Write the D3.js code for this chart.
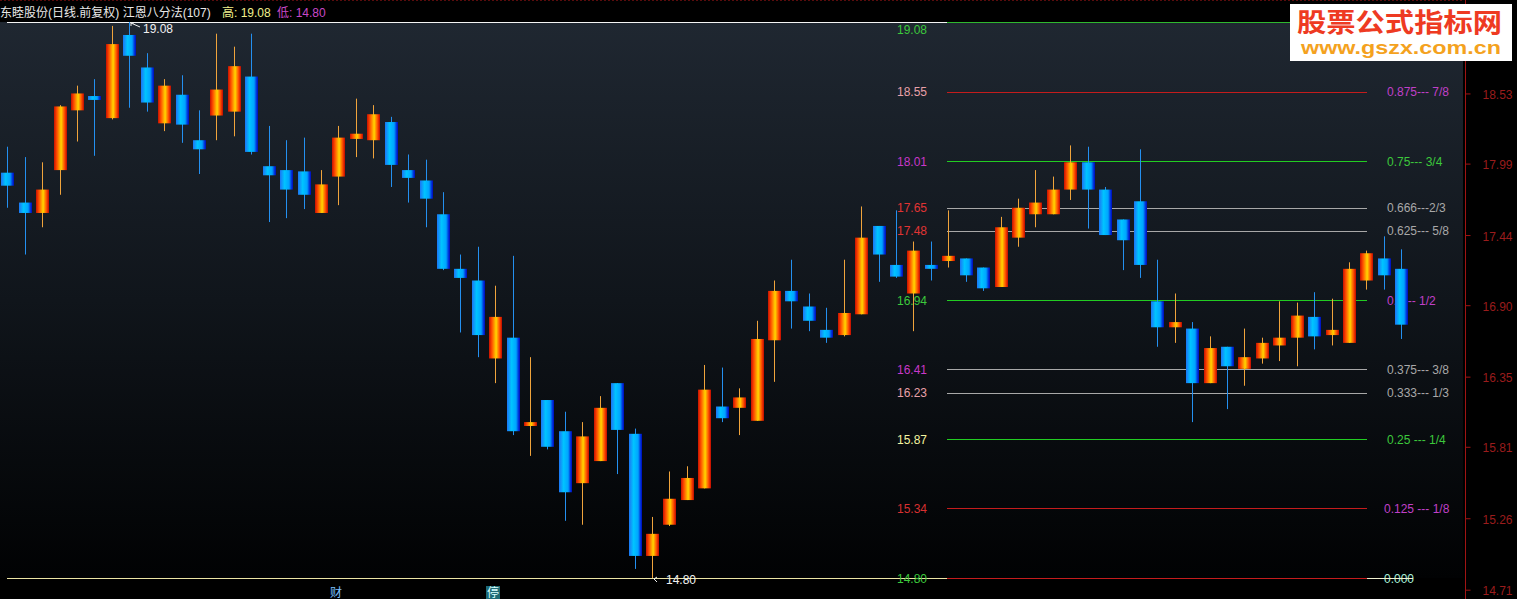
<!DOCTYPE html>
<html><head><meta charset="utf-8">
<script src="https://cdn.jsdelivr.net/npm/d3@7"></script>
<style>html,body{margin:0;padding:0;background:#000;overflow:hidden}</style>
</head><body>
<svg id="c" width="1517" height="599"></svg>
<script>
// ---- data ----
const opens  = [17.92,17.69,17.61,17.94,18.40,18.51,18.34,18.98,18.73,18.30,18.52,18.17,18.36,18.39,18.66,17.97,17.94,17.93,17.61,17.89,18.18,18.17,18.31,17.94,17.86,17.60,17.18,17.09,16.49,16.65,15.97,16.17,15.93,15.53,15.70,16.30,15.91,14.97,15.21,15.40,15.49,16.12,16.11,16.01,16.63,17.01,16.89,16.71,16.67,16.83,17.51,17.21,16.99,17.21,17.24,17.26,17.19,17.04,17.42,17.60,17.60,17.79,18.00,17.79,17.56,17.70,16.93,16.73,16.72,16.30,16.58,16.41,16.49,16.59,16.65,16.81,16.67,16.61,17.09,17.26,17.18];
const highs  = [18.12,18.04,18.00,18.44,18.59,18.64,19.05,19.08,18.84,18.64,18.67,18.40,18.99,18.89,18.99,18.28,18.17,18.19,17.94,18.28,18.49,18.44,18.35,18.06,18.02,17.77,17.29,17.35,17.05,17.28,16.50,16.17,16.08,16.00,16.20,16.30,15.95,15.27,15.62,15.66,16.44,16.42,16.26,16.78,17.09,17.25,16.99,16.88,17.25,17.66,17.51,17.63,17.39,17.39,17.63,17.26,17.19,17.58,17.72,17.94,17.89,18.13,18.12,17.81,17.56,18.10,17.25,16.99,16.77,16.66,16.58,16.72,16.65,16.93,16.92,17.00,16.95,17.23,17.32,17.43,17.33];
const lows   = [17.65,17.29,17.50,17.75,18.16,18.05,18.33,18.42,18.39,18.24,18.15,17.91,18.17,18.20,18.06,17.54,17.57,17.64,17.61,17.67,18.04,18.03,17.81,17.69,17.50,17.17,16.69,16.50,16.30,15.90,15.74,15.79,15.24,15.21,15.70,15.60,14.87,14.80,15.20,15.40,15.49,16.00,15.90,16.01,16.31,16.72,16.70,16.61,16.66,16.83,17.08,17.11,16.70,17.09,17.19,17.08,17.01,17.04,17.35,17.50,17.60,17.71,17.49,17.44,17.17,17.11,16.58,16.61,16.00,16.30,16.10,16.28,16.45,16.47,16.43,16.56,16.59,16.61,17.02,17.02,16.64];
const closes = [17.82,17.61,17.79,18.43,18.53,18.48,18.91,18.82,18.46,18.59,18.29,18.10,18.56,18.74,18.08,17.90,17.79,17.75,17.83,18.19,18.22,18.37,17.98,17.88,17.72,17.18,17.11,16.67,16.81,15.93,16.00,15.81,15.46,15.89,16.11,15.94,14.97,15.14,15.41,15.57,16.25,16.03,16.19,16.64,17.01,16.93,16.78,16.65,16.84,17.42,17.29,17.12,17.32,17.18,17.28,17.13,17.03,17.50,17.65,17.69,17.79,18.00,17.79,17.44,17.40,17.21,16.73,16.77,16.30,16.57,16.43,16.50,16.61,16.65,16.82,16.66,16.71,17.18,17.30,17.13,16.75];

const periodHigh = 19.08, periodLow = 14.80;
const levelRatios = [1, 0.875, 0.75, 0.666, 0.625, 0.5, 0.375, 0.333, 0.25, 0.125, 0];
const levelLabels = ["19.08","18.55","18.01","17.65","17.48","16.94","16.41","16.23","15.87","15.34","14.80"];
const ratioLabels = ["", "0.875--- 7/8", "0.75--- 3/4", "0.666---2/3", "0.625--- 5/8", "0.5--- 1/2", "0.375--- 3/8", "0.333--- 1/3", "0.25 --- 1/4", "0.125 --- 1/8", "0.000"];
const axisTicks = [18.53, 17.99, 17.44, 16.90, 16.35, 15.81, 15.26, 14.71];
const titleMain = "东睦股份(日线.前复权) 江恩八分法(107)";
const titleHigh = "高: 19.08", titleLow = "低: 14.80";

// ---- styles ----
const levelLineColor  = ["#2fb82f","#c41c1c","#22cc22","#a8a8a8","#a8a8a8","#22cc22","#a8a8a8","#a8a8a8","#22cc22","#c41c1c","#c41c1c"];
const leftLabelColor  = ["#3cc83c","#e8a0a8","#c838c8","#e03434","#e03434","#3cc83c","#c838c8","#e8a0a8","#f4f4a0","#d83030","#3cc83c"];
const rightLabelColor = ["#3cc83c","#c040c8","#3cc83c","#a8a8a8","#a8a8a8","#c040c8","#a8a8a8","#a8a8a8","#3cc83c","#c040c8","#a8f0d8"];

const FONT = "'Liberation Sans', Arial, 'Noto Sans CJK SC', sans-serif";
const svg = d3.select("#c");
const W = 1517, H = 599, plotRight = 1463, axisX = 1465.5;

const y = d3.scaleLinear().domain([periodLow, periodHigh]).range([578, 22]);
const x = d3.scalePoint().domain(d3.range(opens.length)).range([7.3, 1401.3]);

const defs = svg.append("defs");
const bg = defs.append("linearGradient").attr("id","bg").attr("x1",0).attr("x2",0).attr("y1",0).attr("y2",1);
bg.append("stop").attr("offset","0").attr("stop-color","#1f2731");
bg.append("stop").attr("offset","0.5").attr("stop-color","#10151b");
bg.append("stop").attr("offset","1").attr("stop-color","#010203");
const gUp = defs.append("linearGradient").attr("id","gUp");
[["0","#c81000"],["0.22","#ff4c00"],["0.55","#ffd600"],["0.8","#ff5200"],["1","#c00800"]].forEach(s=>gUp.append("stop").attr("offset",s[0]).attr("stop-color",s[1]));
const gDn = defs.append("linearGradient").attr("id","gDn");
[["0","#1c74f4"],["0.35","#00c4ff"],["0.7","#00a4ff"],["0.86","#0040e0"],["1","#0008b8"]].forEach(s=>gDn.append("stop").attr("offset",s[0]).attr("stop-color",s[1]));

// background
svg.append("rect").attr("width",W).attr("height",H).attr("fill","#000");
svg.append("rect").attr("x",0).attr("y",22).attr("width",plotRight).attr("height",556).attr("fill","url(#bg)");
svg.append("line").attr("x1",0).attr("x2",plotRight).attr("y1",0.5).attr("y2",0.5).attr("stroke","#5a0c0c").attr("stroke-dasharray","2,2");

// title
svg.append("text").attr("x",0).attr("y",17).attr("font-family",FONT).attr("font-size",12).attr("fill","#e8e8e8").text(titleMain);
svg.append("text").attr("x",222).attr("y",17).attr("font-family",FONT).attr("font-size",12).attr("fill","#f0f08c").text(titleHigh);
svg.append("text").attr("x",277).attr("y",17).attr("font-family",FONT).attr("font-size",12).attr("fill","#c848c8").text(titleLow);

// period high / low lines
svg.append("line").attr("x1",7).attr("x2",1413).attr("y1",y(periodHigh)+0.5).attr("y2",y(periodHigh)+0.5).attr("stroke","#f4f4f4");
svg.append("line").attr("x1",7).attr("x2",1413).attr("y1",y(periodLow)+0.5).attr("y2",y(periodLow)+0.5).attr("stroke","#ece4a4");

// level lines
const levels = levelRatios.map((r,i)=>({r, v: periodLow + r*(periodHigh-periodLow), i}));
svg.append("g").attr("shape-rendering","crispEdges").selectAll("line").data(levels).join("line")
  .attr("x1",947).attr("x2",1367)
  .attr("y1",d=>Math.round(y(d.v))+0.5).attr("y2",d=>Math.round(y(d.v))+0.5)
  .attr("stroke",d=>levelLineColor[d.i]).attr("stroke-width",1);

// left labels
svg.append("g").selectAll("text").data(levels).join("text")
  .attr("x",927).attr("y",d=>Math.max(y(d.v),29)+4.5)
  .attr("text-anchor","end").attr("font-family",FONT).attr("font-size",12)
  .attr("fill",d=>leftLabelColor[d.i]).text(d=>levelLabels[d.i]);
// right labels
svg.append("g").selectAll("text").data(levels.filter(d=>ratioLabels[d.i])).join("text")
  .attr("x",d=>(d.r===0.125||d.r===0)?1384:1387).attr("y",d=>y(d.v)+4.5)
  .attr("font-family",FONT).attr("font-size",12)
  .attr("fill",d=>rightLabelColor[d.i]).text(d=>ratioLabels[d.i]);
// tail of low line through "0.000"
svg.append("line").attr("x1",1367).attr("x2",1413).attr("y1",y(periodLow)+0.5).attr("y2",y(periodLow)+0.5).attr("stroke","#f0f0d0");

// candles
const candles = opens.map((o,i)=>({i,o,h:highs[i],l:lows[i],c:closes[i],up:closes[i]>=o}));
const cg = svg.append("g");
cg.selectAll("line").data(candles).join("line")
  .attr("x1",d=>Math.round(x(d.i))+0.5).attr("x2",d=>Math.round(x(d.i))+0.5)
  .attr("y1",d=>y(d.h)).attr("y2",d=>y(d.l))
  .attr("stroke",d=>d.up?"#f0a43c":"#2490f0").attr("stroke-width",1);
cg.selectAll("rect").data(candles).join("rect")
  .attr("x",d=>Math.round(x(d.i))-6).attr("width",13)
  .attr("y",d=>y(Math.max(d.o,d.c)))
  .attr("height",d=>Math.max(3,Math.abs(y(d.o)-y(d.c))))
  .attr("fill",d=>d.up?"url(#gUp)":"url(#gDn)");

// high / low markers
const hi = d3.maxIndex(highs), lo = d3.minIndex(lows);
const hx = Math.round(x(hi)), hy = y(highs[hi]);
svg.append("path").attr("d",`M${hx+2},${hy+1}L${hx+11},${hy+5}M${hx+2},${hy+1}l3,0M${hx+2},${hy+1}l0,3`).attr("stroke","#f0f0f0").attr("fill","none");
svg.append("text").attr("x",hx+14).attr("y",hy+11).attr("font-family",FONT).attr("font-size",12).attr("fill","#f0f0f0").text(d3.format(".2f")(highs[hi]));
const lx = Math.round(x(lo)), ly = y(lows[lo]);
svg.append("path").attr("d",`M${lx+5},${ly-1}L${lx+2},${ly+1}L${lx+5},${ly+4}`).attr("stroke","#f0f0f0").attr("fill","none");
svg.append("text").attr("x",lx+14).attr("y",ly+6).attr("font-family",FONT).attr("font-size",12).attr("fill","#f0f0f0").text(d3.format(".2f")(lows[lo]));

// bottom markers
svg.append("text").attr("x",330).attr("y",597).attr("font-family",FONT).attr("font-size",12).attr("fill","#7cc0ff").text("财");
svg.append("rect").attr("x",486).attr("y",586).attr("width",14).attr("height",13).attr("fill","#1e6a74");
svg.append("text").attr("x",487).attr("y",597).attr("font-family",FONT).attr("font-size",12).attr("fill","#d8ffff").text("停");

// right axis
svg.append("rect").attr("x",plotRight).attr("y",0).attr("width",W-plotRight).attr("height",H).attr("fill","#000");
svg.append("line").attr("x1",axisX).attr("x2",axisX).attr("y1",0).attr("y2",H).attr("stroke","#a01414");
const ax = svg.append("g").attr("transform",`translate(${axisX},0)`)
  .call(d3.axisRight(y).tickValues(axisTicks).tickSize(5).tickSizeOuter(0).tickPadding(12).tickFormat(d3.format(".2f")));
ax.select(".domain").remove();
ax.selectAll(".tick line").attr("stroke","#a01414");
ax.selectAll(".tick text").attr("fill","#9a1c1c").attr("font-family",FONT).attr("font-size",12).attr("dy","0.42em");

// watermark
svg.append("rect").attr("x",1290).attr("y",4).attr("width",222).attr("height",57).attr("fill","#ffffff");
svg.append("text").attr("x",1297).attr("y",32).attr("font-family","'Noto Sans CJK SC', sans-serif").attr("font-weight","bold")
  .attr("font-size",26).attr("fill","#ee3a22").attr("textLength",205).attr("lengthAdjust","spacingAndGlyphs").text("股票公式指标网");
svg.append("text").attr("x",1301).attr("y",54).attr("font-family","'Liberation Sans', Arial, sans-serif").attr("font-weight","bold")
  .attr("font-size",19).attr("fill","#f4a21e").attr("textLength",200).attr("lengthAdjust","spacingAndGlyphs").text("www.gszx.com.cn");
</script>
</body></html>
